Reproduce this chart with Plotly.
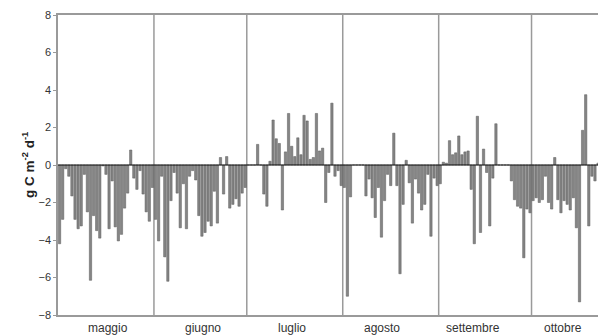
import plotly.graph_objects as go

# Daily values (g C m-2 d-1)
maggio = [-4.2, -2.9, -0.2, -0.6, -1.65, -2.9, -3.4, -3.25, -0.5, -2.5, -6.15, -2.7, -3.5, -3.9, -0.05,
          -0.5, -3.4, -0.85, -3.3, -4.05, -3.7, -2.3, -1.5, 0.8, -0.7, -1.3, -0.3, -1.55, -2.5, -3.0, -1.2]
giugno = [-2.9, -4.05, -0.6, -4.9, -6.2, -1.9, -0.4, -1.5, -3.35, -1.0, -3.4, -0.6, -0.3, -0.8, -2.7,
          -3.8, -3.6, -3.0, -3.25, -1.4, -3.1, 0.4, -1.55, 0.45, -2.3, -2.1, -1.8, -2.2, -1.5, -1.2]
luglio = [0, 0, 0, 1.1, 0, -1.55, -2.2, 0.2, 2.4, 1.4, 1.15, -2.4, 0.7, 2.75, 1.0, 0.45,
          1.45, 0.55, 2.65, 2.35, 0.3, 0.4, 2.75, 0.75, 0.9, -2.0, -0.4, 3.3, -0.6, -0.3, -1.1]
agosto = [-1.2, -7.0, -1.7, 0, 0, 0, 0, -1.65, -0.75, -1.75, -2.8, -1.2, -3.85, -1.9, -0.5, -1.1,
          1.7, -1.1, -5.8, -2.1, 0.25, -0.95, -3.1, -0.75, -1.5, -2.4, -2.1, -0.5, -3.8, -0.7, -1.1]
settembre = [-1.0, 0.15, 0.1, 1.3, 0.55, 0.65, 1.55, 0.55, 0.7, 0.75, -1.3, -4.2, 2.6, -3.6, 0.85,
             -0.4, -3.25, -0.7, 2.2, 0, 0, 0, 0, -0.85, -1.85, -2.2, -2.3, -4.95, -2.35, -2.55]
ottobre = [-1.9, -1.75, -2.0, -1.85, -0.6, -2.0, -2.35, 0.4, -1.85, -2.55, -1.9, -2.1, -2.4, -1.75,
           -3.35, -7.3, 1.85, 3.75, -3.25, -0.6, -0.85, 0.1, -1.85, -0.1]

month_names = ["maggio", "giugno", "luglio", "agosto", "settembre", "ottobre"]
month_days = [31, 30, 31, 31, 30, 31]
label_pos = [15.8, 46.2, 75.0, 104.3, 133.7, 162.8]
y_ticks = [-8, -6, -4, -2, 0, 2, 4, 6, 8]

values = maggio + giugno + luglio + agosto + settembre + ottobre
days = list(range(len(values)))

fig = go.Figure()
fig.add_trace(go.Bar(
    x=days, y=values,
    marker=dict(color="#858585", line=dict(color="#5a5a5a", width=0.5)),
    hoverinfo="y",
))

shapes = []
# month separators
b = -0.5
for n in month_days[:-1]:
    b += n
    shapes.append(dict(type="line", xref="x", yref="y", x0=b, x1=b, y0=-8, y1=8,
                       line=dict(color="#9a9a9a", width=1.5), layer="below"))
# zero line
shapes.append(dict(type="line", xref="paper", yref="y", x0=0, x1=1, y0=0, y1=0,
                   line=dict(color="#111111", width=1.2), layer="above"))

annotations = []
for name, pos in zip(month_names, label_pos):
    annotations.append(dict(text=name, x=pos, xref="x", y=0, yref="paper", yanchor="middle",
                            yshift=-13, showarrow=False,
                            font=dict(size=12, color="#333333")))
annotations.append(dict(text="<b>g C m<sup>-2</sup> d<sup>-1</sup></b>", x=0, xref="paper",
                        xanchor="center", xshift=-30, y=0.5, yref="paper", yanchor="middle",
                        textangle=-90, showarrow=False,
                        font=dict(size=13.5, color="#222222")))

# the page body adds an 8px offset, so the figure is 8px smaller than the window
fig.update_layout(
    width=598, height=328,
    margin=dict(l=50, r=0, t=7, b=21),
    paper_bgcolor="white", plot_bgcolor="white",
    font=dict(family="Liberation Sans, Arial, sans-serif", size=10, color="#333333"),
    bargap=0.25,
    showlegend=False,
    shapes=shapes,
    annotations=annotations,
    xaxis=dict(range=[-0.5, 176.56], showticklabels=False, ticks="", showgrid=False,
               zeroline=False, showline=True, mirror=True, linecolor="#9a9a9a", linewidth=1.5),
    yaxis=dict(range=[-8, 8], tickvals=y_ticks, ticks="outside", ticklen=3, tickcolor="#9a9a9a",
               showgrid=False, zeroline=False, showline=True, linecolor="#9a9a9a", linewidth=1.5,
               tickfont=dict(size=11, color="#333333")),
)

fig.write_html("out.html")
